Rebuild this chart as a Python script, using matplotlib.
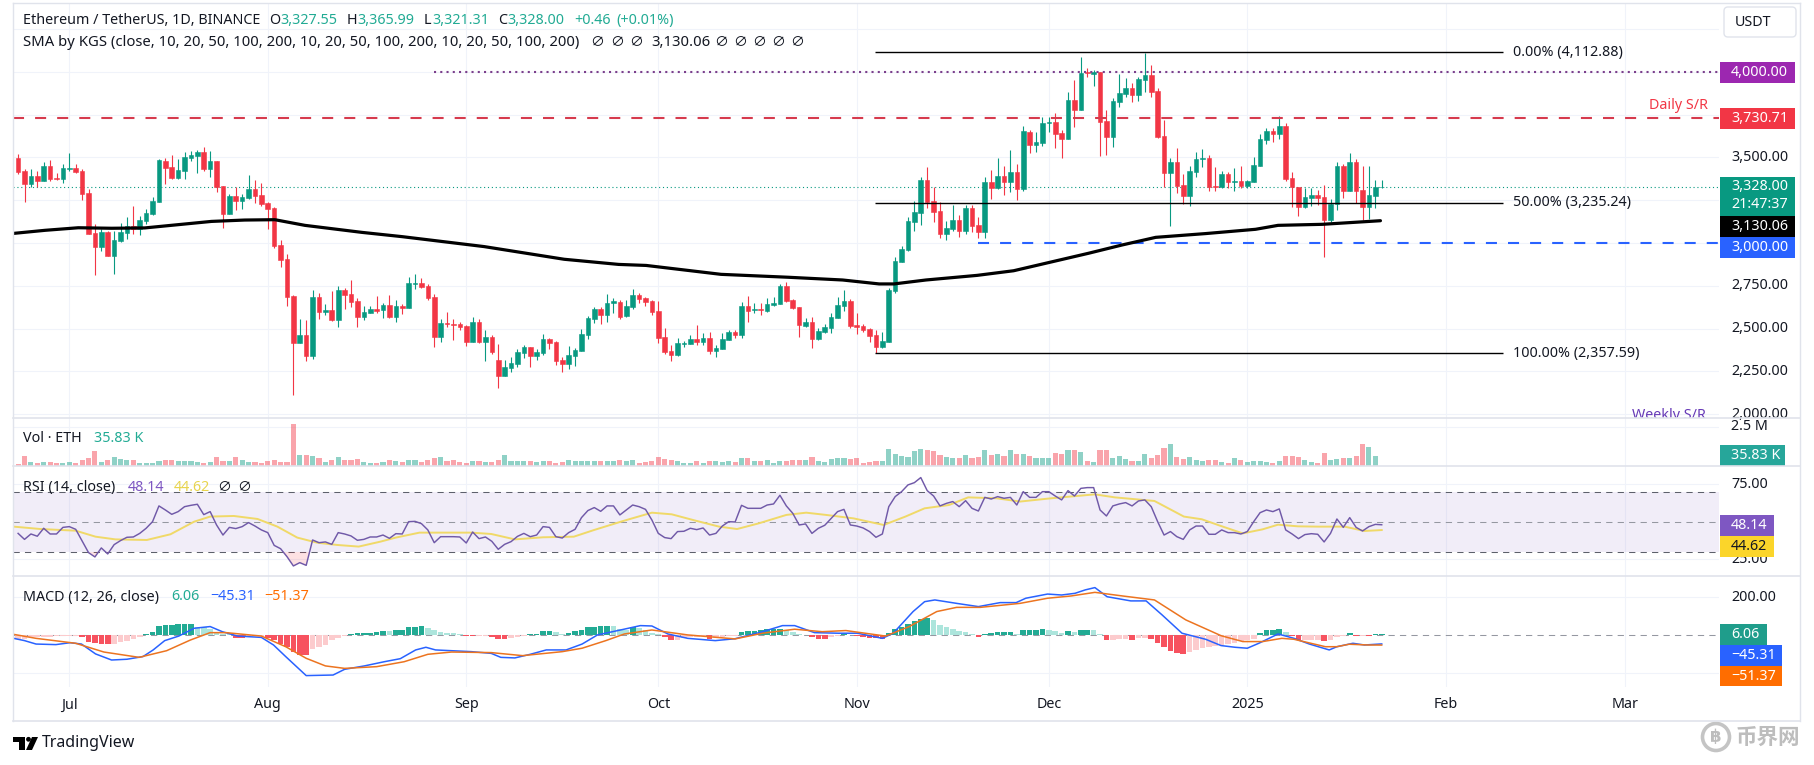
#!/usr/bin/env python3
"""ETH/USDT daily chart with volume, RSI and MACD panes."""
import numpy as np
import matplotlib
matplotlib.use("Agg")
import matplotlib.pyplot as plt
from matplotlib.lines import Line2D
from matplotlib.patches import Circle, FancyBboxPatch, Polygon, Rectangle

plt.rcParams["font.family"] = ["Noto Sans", "Noto Sans CJK SC", "DejaVu Sans"]
plt.rcParams["ytick.alignment"] = "center"

# candle number 0 is 23 Jun 2024, one candle a day
opens = [
    3496, 3418, 3342, 3391, 3364, 3450, 3379, 3376, 3430, 3438,
    3418, 3290, 3056, 2979, 3064, 2924, 3012, 3058, 3097, 3084,
    3130, 3169, 3239, 3477, 3444, 3379, 3420, 3496, 3508, 3531,
    3434, 3479, 3331, 3171, 3274, 3247, 3263, 3315, 3278, 3234,
    3202, 2986, 2905, 2691, 2418, 2463, 2340, 2685, 2597, 2609,
    2550, 2726, 2702, 2661, 2568, 2593, 2613, 2611, 2638, 2568,
    2632, 2622, 2762, 2766, 2749, 2685, 2451, 2535, 2527, 2527,
    2515, 2424, 2539, 2424, 2451, 2315, 2223, 2270, 2293, 2358,
    2391, 2340, 2358, 2439, 2422, 2315, 2293, 2340, 2371, 2463,
    2556, 2615, 2581, 2648, 2655, 2574, 2624, 2696, 2677, 2661,
    2603, 2449, 2367, 2344, 2408, 2412, 2437, 2424, 2443, 2371,
    2383, 2436, 2480, 2465, 2630, 2611, 2615, 2603, 2638, 2646,
    2747, 2665, 2624, 2517, 2537, 2440, 2478, 2506, 2564, 2632,
    2660, 2521, 2516, 2496, 2461, 2395, 2424, 2720, 2891, 2959,
    3125, 3177, 3368, 3245, 3187, 3053, 3080, 3134, 3070, 3204,
    3105, 3064, 3356, 3321, 3391, 3356, 3415, 3313, 3646, 3572,
    3586, 3703, 3706, 3640, 3607, 3833, 3777, 4000, 3989, 3998,
    3712, 3619, 3825, 3870, 3905, 3864, 3954, 3979, 3886, 3623,
    3409, 3471, 3337, 3276, 3416, 3492, 3496, 3331, 3327, 3401,
    3358, 3360, 3331, 3358, 3451, 3601, 3654, 3634, 3683, 3380,
    3325, 3210, 3265, 3280, 3269, 3134, 3226, 3450, 3306, 3473,
    3309, 3210, 3274, 3327.55,
]
closes = [
    3414, 3346, 3391, 3364, 3448, 3372, 3374, 3438, 3436, 3416,
    3288, 3054, 2979, 3062, 2926, 3015, 3064, 3097, 3084, 3134,
    3173, 3245, 3485, 3440, 3379, 3424, 3500, 3514, 3529, 3432,
    3479, 3329, 3171, 3274, 3247, 3267, 3315, 3276, 3230, 3200,
    2984, 2903, 2687, 2418, 2463, 2340, 2685, 2597, 2609, 2548,
    2726, 2698, 2657, 2570, 2597, 2615, 2605, 2638, 2568, 2632,
    2620, 2766, 2766, 2743, 2677, 2451, 2533, 2527, 2523, 2508,
    2424, 2539, 2420, 2449, 2364, 2223, 2276, 2297, 2364, 2393,
    2340, 2364, 2439, 2416, 2311, 2293, 2344, 2375, 2469, 2560,
    2615, 2581, 2648, 2659, 2570, 2632, 2696, 2673, 2655, 2597,
    2447, 2365, 2346, 2414, 2414, 2437, 2424, 2443, 2371, 2385,
    2438, 2480, 2465, 2632, 2605, 2615, 2611, 2642, 2650, 2747,
    2661, 2623, 2523, 2537, 2442, 2484, 2508, 2566, 2636, 2660,
    2516, 2512, 2492, 2459, 2395, 2428, 2724, 2893, 2965, 3129,
    3179, 3368, 3239, 3183, 3053, 3088, 3134, 3070, 3204, 3099,
    3066, 3356, 3321, 3391, 3356, 3415, 3315, 3654, 3572, 3590,
    3701, 3706, 3638, 3607, 3835, 3777, 3994, 3991, 3998, 3708,
    3619, 3829, 3874, 3905, 3866, 3959, 3979, 3884, 3619, 3409,
    3471, 3335, 3276, 3420, 3489, 3498, 3327, 3325, 3401, 3354,
    3362, 3331, 3362, 3455, 3607, 3654, 3634, 3683, 3374, 3325,
    3210, 3267, 3280, 3265, 3134, 3230, 3450, 3306, 3473, 3306,
    3210, 3278, 3325, 3328,
]
highs = [
    3520, 3430, 3430, 3422, 3471, 3485, 3411, 3463, 3523, 3461,
    3430, 3313, 3109, 3084, 3070, 3070, 3115, 3150, 3216, 3158,
    3197, 3270, 3488, 3494, 3514, 3490, 3533, 3539, 3543, 3558,
    3539, 3481, 3335, 3286, 3325, 3284, 3397, 3368, 3348, 3241,
    3212, 3017, 2936, 2696, 2556, 2550, 2726, 2710, 2644, 2720,
    2749, 2735, 2784, 2681, 2632, 2632, 2690, 2652, 2696, 2667,
    2642, 2803, 2819, 2795, 2761, 2700, 2554, 2597, 2554, 2541,
    2519, 2566, 2554, 2492, 2465, 2408, 2317, 2332, 2379, 2404,
    2395, 2379, 2469, 2443, 2430, 2336, 2398, 2385, 2496, 2574,
    2628, 2628, 2702, 2677, 2667, 2667, 2731, 2710, 2685, 2667,
    2663, 2502, 2404, 2443, 2430, 2463, 2519, 2473, 2482, 2405,
    2473, 2492, 2490, 2658, 2691, 2648, 2648, 2677, 2685, 2759,
    2770, 2673, 2628, 2564, 2568, 2502, 2529, 2589, 2683, 2726,
    2673, 2593, 2525, 2506, 2490, 2482, 2735, 2920, 2983, 3154,
    3245, 3385, 3444, 3329, 3237, 3129, 3222, 3164, 3222, 3222,
    3154, 3383, 3426, 3494, 3452, 3543, 3463, 3683, 3660, 3646,
    3738, 3738, 3757, 3660, 3884, 3952, 4086, 4020, 4010, 4000,
    3777, 3845, 3987, 3961, 3932, 3971, 4107, 4039, 3903, 3718,
    3494, 3553, 3401, 3450, 3533, 3549, 3514, 3442, 3420, 3413,
    3440, 3452, 3368, 3504, 3634, 3669, 3669, 3741, 3699, 3417,
    3329, 3319, 3323, 3309, 3339, 3257, 3471, 3459, 3523, 3489,
    3450, 3452, 3368, 3366,
]
lows = [
    3403, 3239, 3325, 3325, 3362, 3364, 3368, 3352, 3422, 3407,
    3251, 3052, 2813, 2955, 2924, 2819, 3006, 3023, 3050, 3047,
    3111, 3165, 3237, 3344, 3374, 3374, 3374, 3479, 3407, 3420,
    3385, 3300, 3087, 3169, 3193, 3200, 3259, 3235, 3218, 3080,
    2969, 2862, 2632, 2113, 2414, 2313, 2325, 2556, 2578, 2546,
    2511, 2615, 2628, 2511, 2550, 2589, 2589, 2564, 2560, 2541,
    2585, 2618, 2729, 2739, 2667, 2395, 2422, 2511, 2434, 2492,
    2400, 2420, 2418, 2311, 2352, 2155, 2221, 2247, 2278, 2327,
    2278, 2317, 2344, 2379, 2286, 2249, 2264, 2282, 2369, 2441,
    2535, 2527, 2539, 2589, 2556, 2566, 2615, 2652, 2632, 2581,
    2418, 2352, 2311, 2340, 2391, 2408, 2404, 2404, 2352, 2336,
    2379, 2434, 2443, 2447, 2537, 2589, 2580, 2599, 2632, 2642,
    2656, 2613, 2451, 2512, 2389, 2436, 2473, 2477, 2560, 2603,
    2506, 2471, 2482, 2420, 2356, 2385, 2422, 2706, 2889, 2955,
    3072, 3105, 3206, 3121, 3031, 3020, 3070, 3033, 3053, 3066,
    3027, 3031, 3257, 3313, 3280, 3298, 3251, 3306, 3524, 3533,
    3568, 3646, 3553, 3494, 3605, 3679, 3775, 3967, 3919, 3508,
    3514, 3562, 3796, 3854, 3821, 3829, 3884, 3850, 3615, 3327,
    3099, 3294, 3226, 3218, 3387, 3442, 3306, 3304, 3323, 3323,
    3304, 3319, 3319, 3354, 3448, 3576, 3592, 3605, 3362, 3210,
    3158, 3202, 3218, 3222, 2920, 3125, 3193, 3265, 3304, 3236,
    3134, 3140, 3204, 3321,
]
volume_k = [
    147, 630, 273, 231, 273, 294, 210, 189, 273, 189, 378, 504, 945, 273, 378,
    588, 462, 399, 378, 231, 210, 231, 357, 420, 420, 315, 357, 315, 273, 231,
    294, 588, 315, 336, 588, 420, 273, 252, 189, 336, 378, 252, 273, 2667,
    714, 693, 630, 504, 273, 420, 567, 399, 399, 441, 273, 189, 231, 294, 378,
    315, 252, 420, 378, 294, 420, 546, 588, 315, 378, 252, 231, 315, 336, 294,
    294, 420, 714, 315, 315, 357, 357, 294, 336, 315, 231, 273, 378, 357, 357,
    357, 357, 315, 315, 357, 378,
    357, 378, 189, 252, 315, 567, 462, 420, 336, 189, 210, 336, 231, 336, 315,
    294, 315, 294,
    504, 525, 336, 357, 378, 231, 315, 357, 378, 420, 399, 588, 315, 252, 441,
    504, 504, 483, 525, 231, 273, 336, 357,
    1092, 798, 630, 567, 945, 1092, 1008, 945, 693, 567, 504, 525, 693, 546,
    567, 1008, 693, 777, 672, 1008, 798,
    756, 672, 546, 504, 546, 840, 798, 1008, 1008, 882, 315, 294, 1008, 1008,
    546, 630, 462, 315, 315, 756, 504, 714, 1155, 1407, 567, 462, 567, 420,
    315, 420, 420,
    273, 210, 504, 378, 252, 357, 357, 294, 231, 315, 630, 630, 567, 420, 252,
    210, 861, 420, 483, 504, 546, 672, 1386, 1218, 630, 35.83,
]
sma_days = [
    -1, 4.2, 9.4, 14.6, 19.8, 25, 30.2, 35.4, 40.1, 44.8, 53.7, 60, 72.8, 85.3,
    93.8, 98.1, 109.8, 120.3, 128.8, 134.5, 136.8, 141.8, 149.8, 155.5, 159.4,
    167.2, 172.4, 177.7, 185.5, 193.3, 196.8, 203.7, 212.8,
]
sma_values = [
    3055, 3074, 3089, 3086, 3088, 3107, 3126, 3134, 3136, 3103, 3062, 3037,
    2979, 2905, 2875, 2869, 2817, 2800, 2784, 2761, 2761, 2784, 2811, 2838,
    2872, 2940, 2988, 3033, 3055, 3080, 3103, 3109, 3130.06,
]
rsi = [
    42.4, 38.4, 42, 40.5, 45.8, 42, 42, 46.4, 46.9, 45.1,
    37.3, 29.6, 26.7, 32.7, 28.7, 34.9, 37.6, 39.8, 40, 42.4,
    45.8, 50.2, 60.7, 58, 55.1, 56.9, 60.2, 61.1, 61.8, 54.9,
    56.9, 48, 41.3, 46.4, 45.6, 46.9, 49.6, 47.3, 44.7, 42.9,
    34.4, 32.2, 26.9, 20.7, 22.9, 21.1, 38, 36.2, 36.7, 35.1,
    42.9, 42, 40.7, 37.8, 38.4, 40, 40, 41.3, 39.1, 42.2,
    42, 50.2, 50.4, 48.9, 44.7, 36.2, 40.2, 40.2, 40.2, 40,
    36, 43.3, 38.9, 40, 37.1, 31.8, 35.1, 36.9, 40.4, 42.4,
    40.2, 41.3, 46.9, 46.4, 40.2, 39.3, 42.9, 45.1, 52.9, 57.6,
    59.6, 57.1, 60.7, 60.7, 54.7, 58, 61.3, 60.2, 58.4, 51.3,
    42.4, 39.6, 38.9, 43.6, 43.8, 45.8, 44.9, 46, 41.3, 42.4,
    47.3, 50.2, 50, 61.1, 59.1, 59.1, 59.1, 61.3, 62, 67.8,
    60.7, 55.8, 48, 48.7, 42.4, 45.8, 47.8, 52.4, 56.9, 58.4,
    48, 47.3, 46, 43.6, 39.8, 42, 60.2, 66.9, 70.2, 74.7,
    76.2, 79.6, 70.9, 67.3, 60.7, 62.4, 63.6, 60.2, 64.2, 59.1,
    57.3, 66.4, 65.3, 66.9, 65.8, 66.4, 61.3, 70.2, 66.4, 66.4,
    70.2, 70.2, 67.3, 64.7, 70.9, 67.3, 72.4, 72.9, 72.9, 58,
    54, 60.7, 62, 62.9, 60.7, 64, 64.7, 60.2, 50.2, 41.3,
    43.6, 40.2, 38.4, 44.7, 47.3, 47.3, 41.8, 41.8, 44.7, 42.9,
    42.9, 42, 43.6, 50.2, 56.2, 58, 56.9, 58.7, 44.7, 42,
    38.9, 41.6, 42.2, 41.8, 36.7, 42.4, 52, 46.4, 52.9, 46.4,
    44, 46.9, 48.4, 48.14,
]
rsi_ma_days = [
    -0.7, 3.5, 9, 12.1, 15.2, 20.1, 23.8, 27.5, 30, 33.7, 37.4, 40.5, 43.6,
    46.7, 49.8, 53.2, 56.6, 59, 62.7, 67.1, 70.8, 73.9, 77.6, 82, 86.8, 90,
    94.7, 99, 102.1, 105.8, 109.5, 112.3, 115.7, 120, 123.1, 126.2, 130.5,
    135.2, 138.6, 141.6, 145.4, 148.4, 152.8, 156.5, 161.4, 168.2, 171.3,
    177.5, 182.1, 184.9, 187.7, 191.3, 194.4, 196.8, 199.9, 203, 207.2, 210.3,
    213,
]
rsi_ma = [
    46.9, 45.3, 44.2, 40.2, 38.4, 38, 41.8, 50.2, 53.6, 54, 52, 46.9, 39.6,
    36.2, 34.7, 33.6, 36.9, 39.6, 42.9, 42.9, 42.9, 42, 38.4, 39.8, 40.2, 44.7,
    50.9, 56.2, 55.1, 50.9, 46.9, 45.3, 49.1, 54.7, 56.2, 54.7, 52.4,
    48, 53.6, 59.1, 61.3, 66.4, 65.8, 63.6, 65.8, 68.4, 66.4,
    64, 53.6, 51.8, 47.6, 42.4, 45.1, 48.2, 47.1, 46.9, 46.9, 44,
    44.62,
]
macd_hist = [
    -21, -21, -9, -7, -7, -7, -5, -4, -4, -2,
    -9, -33, -42, -46, -47, -46, -35, -28, -21, -11,
    5, 18, 47, 53, 56, 58, 60, 61, 46, 42,
    35, 14, 9, 5, -12, -14, -9, -5, -4, -14,
    -25, -44, -61, -88, -102, -103, -70, -61, -49, -26,
    -14, -4, 9, 11, 11, 12, 18, 23, 21, 26,
    30, 42, 46, 47, 39, 28, 18, 14, 11, 7,
    -4, -5, -4, -2, -11, -19, -21, -14, -7, -4,
    7, 7, 21, 25, 18, 9, 14, 21, 26, 42,
    46, 49, 49, 47, 35, 30, 46, 39, 26, 14,
    5, -11, -25, -25, -14, -11, -7, -5, -18, -14,
    -7, -4, -2, 19, 25, 25, 30, 32, 32, 33,
    26, 18, 9, 4, -11, -18, -19, -11, -4, 5,
    4, -5, -9, -12, -16, -21, 14, 35, 46, 61,
    74, 88, 91, 81, 56, 46, 35, 21, 18, 9,
    -7, 7, 14, 18, 18, 19, 9, 26, 26, 26,
    32, 30, 23, 14, 21, 18, 26, 30, 26, 7,
    -25, -25, -18, -18, -25, -14, -12, -18, -42, -63,
    -81, -91, -98, -88, -77, -67, -61, -56, -53, -46,
    -42, -32, -25, -18, 12, 26, 28, 35, 16, -5,
    -25, -25, -25, -25, -28, -25, -7, -4, 12, -2,
    -2, -4, 5, 6.06,
]
macd_days = [
    -0.7, 1, 2.8, 5.9, 8.1, 9.9, 12.1, 14.6, 17, 19.5, 21.1, 22.9, 25.1, 27.5,
    30, 31.9, 34.3, 38, 39.9, 41.8, 45, 49.2, 51, 54.1, 57.2, 59.7, 62.1, 63.7,
    65.2, 70.8, 73.9, 75.4, 77.6, 80, 82.5, 85.6, 88.1, 90.5, 94.1, 97.2, 99,
    101.5, 104.6, 108.9, 112, 116.3, 119.4, 121.3, 124.4, 128.1, 131.1, 135,
    136.7, 139.8, 141.6, 143.2, 146.6, 150, 153.4, 155.9, 157.4, 160.8, 163,
    165.1, 166.7, 168.2, 170.1, 173.8, 176.2, 178.7, 181.8, 185.5, 187.9,
    190.1, 192, 193.8, 196.8, 199.3, 201.7, 204.8, 206, 208.5, 210.3, 213,
]
macd_line = [
    -16, -28, -46, -49, -39, -46, -98, -130, -126, -112, -77, -28, -4, 37,
    46, 19, -4, -11, -51, -112, -212, -209, -179, -161, -139, -123, -77, -63,
    -77, -86, -95, -116, -119, -100, -77, -77, -46, 2, 28, 51, 49,
    7, -16, -28, -18, 19, 51, 51, 14, 11, 11, -16,
    11, 125, 177, 186, 168, 151, 172, 172, 195, 217, 212,
    221, 239, 251, 203, 181, 181, 107, 11, -21, -54,
    -63, -68, -42, 7, -16, -46, -77, -60, -42, -51, -45.31,
]
signal_days = [
    -0.7, 2.8, 9, 13.4, 18.9, 23.2, 26.9, 30, 32.5, 38, 41.8, 45, 48, 51, 56,
    60.3, 64, 67.7, 73.9, 78.8, 85, 88.1, 91.8, 94.7, 99, 104.6, 112, 116.3,
    121.3, 125.6, 129.3, 135.5, 139.2, 143.5, 146.6, 150.3, 156.5, 160.8, 164.5,
    168.2, 172.5, 177.5, 182.4, 187.9, 191.3, 194.4, 197.4, 199.3, 204.2, 206,
    207.9, 210.9, 213,
]
signal_line = [
    5, -16, -42, -88, -116, -81, -25, 14, 14, -4, -60, -121, -161, -174, -165,
    -139, -100, -88, -91, -107, -86, -68, -28, 7, 28, 2, -19, 11,
    32, 19, 25, -4, 46, 125, 147, 147, 168, 195, 207,
    226, 207, 186, 81, -2, -33, -33, -16, -21, -60, -60,
    -47, -51, -51.37,
]
fib_levels = [4112.88, 3235.24, 2357.59]
fib_labels = ["0.00% (4,112.88)", "50.00% (3,235.24)", "100.00% (2,357.59)"]
month_ticks = [8, 39, 70, 100, 131, 161, 192, 223, 251]
month_labels = ["Jul", "Aug", "Sep", "Oct", "Nov", "Dec", "2025", "Feb", "Mar"]
price_ticks = [2000, 2250, 2500, 2750, 3000, 3250, 3500, 3750, 4000, 4250]
price_tick_labels = ["2,000.00", "2,250.00", "2,500.00", "2,750.00", "", "", "3,500.00", "", "", ""]

GREEN = "#089981"
RED = "#F23645"
INK = "#131722"
GRID = "#f0f3fa"
BORDER = "#e0e3eb"
W, H = 1814, 765
LEFT, RIGHT = 13, 1719
FS = 10.3

xlim = ((LEFT - 18.1) / 6.402, (RIGHT - 18.1) / 6.402)


def pane(fig, top, bottom, ylim):
    ax = fig.add_axes([LEFT / W, 1 - bottom / H, (RIGHT - LEFT) / W, (bottom - top) / H])
    ax.set_xlim(xlim)
    ax.set_ylim(ylim)
    for s in ax.spines.values():
        s.set_visible(False)
    ax.set_facecolor("white")
    ax.yaxis.tick_right()
    ax.tick_params(axis="both", length=0, labelsize=FS, labelcolor=INK)
    ax.tick_params(axis="y", pad=8.6)
    ax.set_xticks(month_ticks)
    ax.set_xticklabels([])
    ax.grid(True, color=GRID, lw=0.75)
    ax.set_axisbelow(True)
    return ax


fig = plt.figure(figsize=(W / 100, H / 100), dpi=100, facecolor="white")

# main pane
ax = pane(fig, 3, 418, (1978.4, 4401))
ax.set_yticks(price_ticks)
ax.set_yticklabels(price_tick_labels)
x = np.arange(len(closes))
o, h, l, c = map(np.array, (opens, highs, lows, closes))
up = c >= o
cols = np.where(up, GREEN, RED)
ax.vlines(x, l, h, colors=cols, lw=0.8, zorder=3)
ax.bar(x, np.abs(c - o), bottom=np.minimum(o, c), width=0.72, color=cols,
       edgecolor=cols, lw=0.4, zorder=3)
ax.hlines(closes[-1], xlim[0], xlim[1], color=GREEN, lw=0.8, linestyles=[(0, (1, 2.5))], zorder=2)
ax.hlines(3730.71, xlim[0], xlim[1], color="#d63a4d", lw=1.5, linestyles=[(0, (5.3, 5.3))], zorder=4)
ax.hlines(4000, 65, xlim[1], color="#7b3f8c", lw=1.5, linestyles=[(0, (1, 2))], zorder=4)
ax.hlines(3000, 150, xlim[1], color="#2962FF", lw=1.5, linestyles=[(0, (5.3, 5.3))], zorder=2.5)
ax.hlines(fib_levels, 133.8, 232, color="black", lw=1.0, zorder=4)
ax.plot(sma_days, sma_values, color="black", lw=2.3, zorder=5, solid_capstyle="round")
for lev, lab in zip(fib_levels, fib_labels):
    ax.text(233.5, lev, lab, fontsize=FS, color=INK, va="center", ha="left", zorder=6)
ax.text(254.7, 3730.71 + 70, "Daily S/R", fontsize=FS, color=RED, va="center", zorder=6)
ax.text(252.1, 1992, "Weekly S/R", fontsize=FS, color="#673AB7", va="center", ha="left",
        zorder=6, clip_on=True)

# volume pane, 2.5M sits 39.6 px above the base
vol_top = 48.3 * 2500 / 39.6
vx = pane(fig, 418, 466.3, (0, vol_top))
vx.set_yticks([2500])
vx.set_yticklabels(["2.5 M"])
vx.bar(x, volume_k, width=0.8, color=cols, alpha=0.45, lw=0, zorder=3)

# RSI pane
rx = pane(fig, 466.3, 576, (14, 87.1))
rx.set_yticks([25, 75])
rx.set_yticklabels(["25.00", "75.00"])
rx.axhspan(30, 70, color="#7E57C2", alpha=0.1, lw=0, zorder=1)
rx.hlines([70, 30], xlim[0], xlim[1], color="#5d606b", lw=0.75, linestyles=[(0, (6, 5))], zorder=2)
rx.hlines(50, xlim[0], xlim[1], color="#9598a1", lw=0.75, linestyles=[(0, (6, 5))], zorder=2)
rsi_arr = np.array(rsi)
rx.fill_between(x, rsi_arr, 30, where=rsi_arr < 30, interpolate=True, color=RED, alpha=0.15, lw=0, zorder=2)
rx.plot(rsi_ma_days, rsi_ma, color="#f0d968", lw=1.4, zorder=3)
rx.plot(x, rsi, color="#7059a8", lw=1.05, zorder=4)

# MACD pane
mx = pane(fig, 576, 687, (-272, 312))
mx.set_yticks([-200, 200])
mx.set_yticklabels(["", "200.00"])
mx.set_xticklabels(month_labels)
mx.tick_params(axis="x", pad=7.5, labelsize=FS)
mx.get_xticklabels()[6].set_fontweight("bold")
mx.hlines(0, xlim[0], xlim[1], color="#9598a1", lw=0.75, linestyles=[(0, (6, 5))], zorder=2)
hist_cols = []
for i, v in enumerate(macd_hist):
    prev = macd_hist[i - 1] if i else v
    if v >= 0:
        hist_cols.append("#22ab94" if v >= prev else "#ace5dc")
    else:
        hist_cols.append("#f7525f" if v < prev else "#fccbcd")
mx.bar(x, macd_hist, width=0.88, color=hist_cols, lw=0, zorder=3)
mx.plot(macd_days, macd_line, color="#2962FF", lw=1.1, zorder=4)
mx.plot(signal_days, signal_line, color="#ec7420", lw=1.1, zorder=5)

# overlay in figure pixels for the header, price tags and frame
ov = fig.add_axes([0, 0, 1, 1], zorder=10)
ov.set_xlim(0, W)
ov.set_ylim(H, 0)
ov.axis("off")
ov.patch.set_alpha(0)


def txt(px, py, s, color=INK, size=FS, **kw):
    kw.setdefault("va", "center")
    kw.setdefault("ha", "left")
    ov.text(px, py, s, color=color, fontsize=size, **kw)


for y0, lw in [(3, 1), (418, 1.2), (466.3, 1.2), (576, 1.2), (721, 1.2)]:
    ov.add_line(Line2D([LEFT, 1800], [y0, y0], color=BORDER, lw=lw))
for x0 in (LEFT, 1800):
    ov.add_line(Line2D([x0, x0], [3, 721], color=BORDER, lw=1))

TEAL = "#22ab94"
txt(23, 20, "Ethereum / TetherUS, 1D, BINANCE")
for px, s in [(269, "O"), (347, "H"), (424, "L"), (498, "C")]:
    txt(px, 20, s)
for px, s in [(280, "3,327.55"), (357, "3,365.99"), (432, "3,321.31"), (507, "3,328.00"),
              (574, "+0.46"), (616, "(+0.01%)")]:
    txt(px, 20, s, TEAL)
txt(23, 42, "SMA by KGS (close, 10, 20, 50, 100, 200, 10, 20, 50, 100, 200, 10, 20, 50, 100, 200)", size=10.7)
for px in (597, 617, 636, 721, 740, 759, 778, 797):
    txt(px, 42, "\u2205", ha="center", size=10)
txt(651, 42, "3,130.06", size=10.7)

txt(23, 438, "Vol \u00b7 ETH")
txt(94, 438, "35.83 K", TEAL)
txt(23, 487, "RSI (14, close)")
txt(128, 487, "48.14", "#7E57C2")
txt(174, 487, "44.62", "#e8d44d")
txt(224, 487, "\u2205", ha="center", size=10)
txt(244, 487, "\u2205", ha="center", size=10)
txt(23, 597, "MACD (12, 26, close)")
txt(171, 597, "6.06", TEAL)
txt(210, 597, "\u221245.31", "#2962FF")
txt(264, 597, "\u221251.37", "#FF6D00")

tags = [
    (62, 83, 1795, "#9C27B0", "4,000.00", "white"),
    (108, 129, 1795, "#F23645", "3,730.71", "white"),
    (216, 237, 1795, "#000000", "3,130.06", "white"),
    (237, 258, 1795, "#2962FF", "3,000.00", "white"),
    (445, 466, 1785, "#26a69a", "35.83 K", "white"),
    (515, 536, 1774, "#7E57C2", "48.14", "white"),
    (536, 557, 1774, "#FBD52A", "44.62", INK),
    (624, 645, 1767, "#1f9d8b", "6.06", "white"),
    (645, 666, 1782, "#2962FF", "\u221245.31", "white"),
    (666, 686, 1782, "#FF6D00", "\u221251.37", "white"),
]
for y0, y1, x1, col, s, tc in tags:
    ov.add_patch(Rectangle((1720, y0), x1 - 1720, y1 - y0, color=col, lw=0))
    txt(1731, (y0 + y1) / 2, s, tc)
ov.add_patch(Rectangle((1720, 177), 75, 39, color=GREEN, lw=0))
txt(1731, 186.5, "3,328.00", "white")
txt(1731, 204, "21:47:37", "white")

ov.add_patch(FancyBboxPatch((1724, 7), 72, 30, boxstyle="round,pad=0,rounding_size=4",
                            fc="white", ec=BORDER, lw=1))
txt(1735, 22, "USDT")

# TradingView mark
ov.add_patch(Rectangle((13, 737), 12, 4.5, color="black", lw=0))
ov.add_patch(Rectangle((19, 737), 6, 13, color="black", lw=0))
ov.add_patch(Circle((28.5, 739.3), 2.4, color="black", lw=0))
ov.add_patch(Polygon([[32, 737], [38, 737], [32, 750], [26, 750]], color="black", lw=0))
txt(42, 743, "TradingView", size=11.5)

# watermark
ov.add_patch(Circle((1716, 737), 13.5, fc="none", ec="#c4c4c4", lw=2.6))
txt(1716, 737, "\u0e3f", "#bdbdbd", size=12, ha="center", family=["DejaVu Sans"], fontweight="bold")
txt(1736, 737, "币界网", "#bdbdbd", size=15.5, family=["Noto Sans CJK SC"], fontweight="bold")

fig.savefig("out.png", dpi=100)
plt.close(fig)
